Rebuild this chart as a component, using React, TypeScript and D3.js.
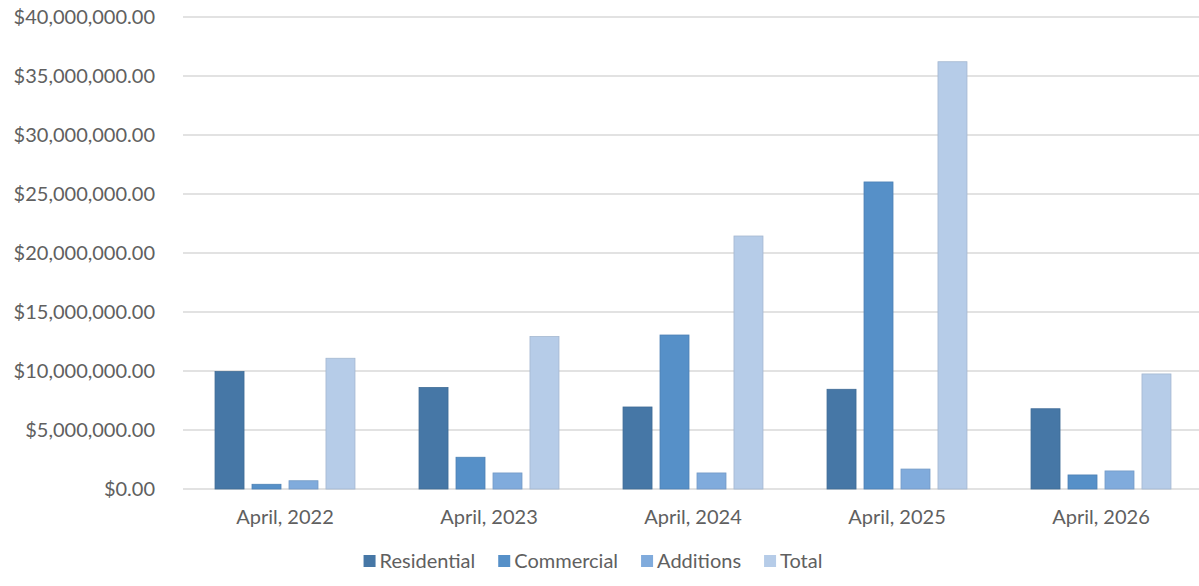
import { useRef, useEffect } from "react";
import * as d3 from "d3";

const categories = ["April, 2022", "April, 2023", "April, 2024", "April, 2025", "April, 2026"];
const seriesNames = ["Residential", "Commercial", "Additions", "Total"];
const residential = [9950000, 8600000, 6950000, 8450000, 6800000];
const commercial = [400000, 2690000, 13050000, 26020000, 1190000];
const additions = [700000, 1360000, 1360000, 1690000, 1530000];
const total = [11080000, 12920000, 21440000, 36210000, 9750000];
const yTicks = [0, 5000000, 10000000, 15000000, 20000000, 25000000, 30000000, 35000000, 40000000];
const colors = ["#4677a6", "#5690c8", "#80abdc", "#b6cce8"];

const W = 1199;
const H = 586;
const FONT = "Lato, 'Open Sans', sans-serif";

export default function App() {
  const svgRef = useRef<SVGSVGElement | null>(null);

  useEffect(() => {
    if (!svgRef.current) return;
    const svg = d3.select(svgRef.current);
    svg.selectAll("*").remove();

    const left = 183;
    const right = 1203;
    const top = 17;
    const bottom = 489;

    const values = [residential, commercial, additions, total];
    const rows = categories.map((c, i) => ({
      cat: c,
      vals: seriesNames.map((s, j) => ({ name: s, value: values[j][i], color: colors[j] })),
    }));

    const x0 = d3.scaleBand<string>().domain(categories).range([left, right]).paddingInner(0.314).paddingOuter(0.157);
    const x1 = d3.scaleBand<string>().domain(seriesNames).range([0, x0.bandwidth()]).paddingInner(0.216);
    const y = d3.scaleLinear().domain([0, 40000000]).range([bottom, top]);

    const fmt = (v: number) => "$" + d3.format(",.2f")(v);

    // gridlines
    svg
      .append("g")
      .selectAll("line")
      .data(yTicks)
      .enter()
      .append("line")
      .attr("x1", left)
      .attr("x2", W)
      .attr("y1", (d) => y(d))
      .attr("y2", (d) => y(d))
      .attr("stroke", "#d9d9d9")
      .attr("stroke-width", 1.5);

    // y labels
    svg
      .append("g")
      .selectAll("text")
      .data(yTicks)
      .enter()
      .append("text")
      .attr("x", 155)
      .attr("y", (d) => y(d))
      .attr("dy", "0.35em")
      .attr("text-anchor", "end")
      .attr("font-family", FONT)
      .attr("font-size", 20)
      .attr("fill", "#606060")
      .text((d) => fmt(d));

    // bars
    const groups = svg
      .append("g")
      .selectAll("g")
      .data(rows)
      .enter()
      .append("g")
      .attr("transform", (d) => `translate(${x0(d.cat)},0)`);

    groups
      .selectAll("rect")
      .data((d) => d.vals)
      .enter()
      .append("rect")
      .attr("x", (d) => x1(d.name)!)
      .attr("width", x1.bandwidth())
      .attr("y", (d) => y(d.value))
      .attr("height", (d) => bottom - y(d.value))
      .attr("fill", (d) => d.color)
      .attr("stroke", (d) => d3.color(d.color)!.darker(0.3).formatHex())
      .attr("stroke-width", 0.8);

    // x labels
    svg
      .append("g")
      .selectAll("text")
      .data(categories)
      .enter()
      .append("text")
      .attr("x", (d) => x0(d)! + x0.bandwidth() / 2)
      .attr("y", 524)
      .attr("text-anchor", "middle")
      .attr("font-family", FONT)
      .attr("font-size", 20)
      .attr("fill", "#606060")
      .text((d) => d);

    // legend
    const legend = svg.append("g");
    const items = legend
      .selectAll("g")
      .data(seriesNames)
      .enter()
      .append("g");
    items
      .append("rect")
      .attr("width", 12)
      .attr("height", 12)
      .attr("y", 555)
      .attr("fill", (_, i) => colors[i]);
    items
      .append("text")
      .attr("x", 16)
      .attr("y", 568)
      .attr("font-family", FONT)
      .attr("font-size", 20)
      .attr("fill", "#606060")
      .text((d) => d);

    const widths: number[] = [];
    items.each(function () {
      const t = d3.select(this).select("text").node() as SVGTextElement;
      widths.push(16 + t.getComputedTextLength());
    });
    const gap = 23;
    const totalW = d3.sum(widths) + gap * (widths.length - 1);
    let cx = 593 - totalW / 2;
    items.attr("transform", (_, i) => {
      const tx = cx;
      cx += widths[i] + gap;
      return `translate(${tx},0)`;
    });
  }, []);

  return (
    <svg
      ref={svgRef}
      width={W}
      height={H}
      style={{ position: "absolute", left: 0, top: 0, background: "#fff" }}
    />
  );
}
